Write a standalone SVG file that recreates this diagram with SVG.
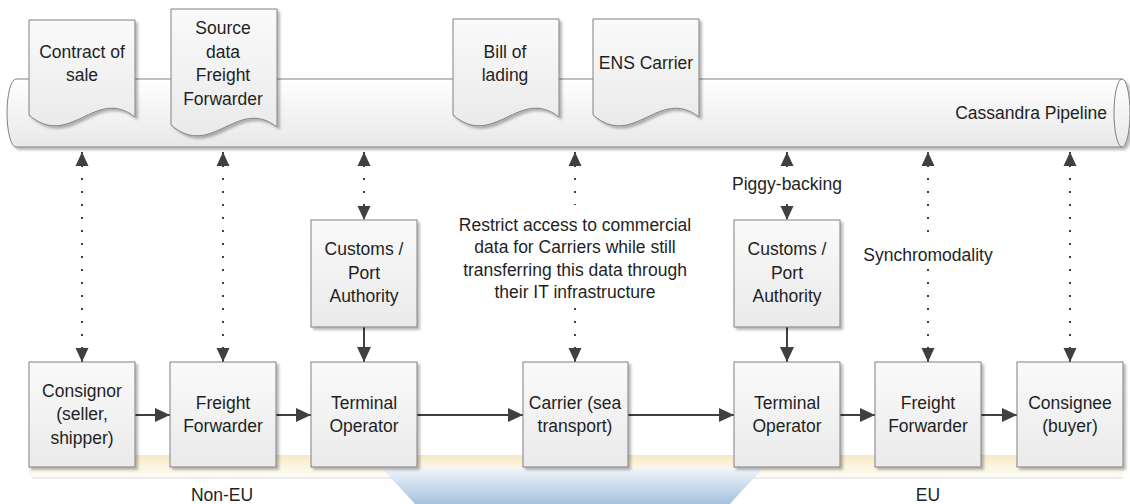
<svg xmlns="http://www.w3.org/2000/svg" width="1130" height="504" viewBox="0 0 1130 504">
<defs>
  <linearGradient id="gBox" x1="0" y1="0" x2="0" y2="1">
    <stop offset="0" stop-color="#fafafa"/>
    <stop offset="1" stop-color="#eaeaea"/>
  </linearGradient>
  <linearGradient id="gPipe" x1="0" y1="0" x2="0" y2="1">
    <stop offset="0" stop-color="#ffffff"/>
    <stop offset="1" stop-color="#e8e8e8"/>
  </linearGradient>
  <linearGradient id="gBand" x1="0" y1="0" x2="0" y2="1">
    <stop offset="0" stop-color="#f6e9c2"/>
    <stop offset="0.5" stop-color="#fbf4df"/>
    <stop offset="1" stop-color="#fefcf6"/>
  </linearGradient>
  <linearGradient id="gSea" x1="0" y1="0" x2="0" y2="1">
    <stop offset="0" stop-color="#f3f7fc"/>
    <stop offset="1" stop-color="#a6c1de"/>
  </linearGradient>
  <filter id="sh" x="-10%" y="-10%" width="130%" height="130%">
    <feDropShadow dx="2.5" dy="2.5" stdDeviation="1" flood-color="#000" flood-opacity="0.28"/>
  </filter>
  <marker id="ah" markerUnits="userSpaceOnUse" markerWidth="16" markerHeight="14" refX="15" refY="7" orient="auto-start-reverse">
    <path d="M0,0 L15,7 L0,14 Z" fill="#404040"/>
  </marker>
  <marker id="ad" markerUnits="userSpaceOnUse" markerWidth="15" markerHeight="14" refX="14" refY="7" orient="auto-start-reverse">
    <path d="M0,0.5 L14,7 L0,13.5 Z" fill="#404040"/>
  </marker>
  <style>
    .box{fill:url(#gBox);stroke:#808080;stroke-width:1;filter:url(#sh)}
    .doc{fill:url(#gBox);stroke:#808080;stroke-width:1;filter:url(#sh)}
    .t{font-family:"Liberation Sans",Arial,sans-serif;font-size:17.5px;fill:#1f1f1f;text-anchor:middle}
    .solid{stroke:#404040;stroke-width:2;fill:none;marker-end:url(#ah)}
    .dot{stroke:#404040;stroke-width:2;fill:none;stroke-dasharray:2 11;marker-start:url(#ad);marker-end:url(#ad)}
    .lbg{fill:#ffffff}
  </style>
</defs>
<rect width="1130" height="504" fill="#ffffff"/>

<g id="regions">
  <rect x="29" y="455" width="1094" height="22" fill="url(#gBand)"/>
  <rect x="32" y="477" width="1091" height="2" fill="#ececec"/>
  <path d="M381,467 H765 Q742,490 730,504 H415 Q402,490 381,467 Z" fill="url(#gSea)"/>
  <text class="t" x="222" y="501">Non-EU</text>
  <text class="t" x="928" y="501">EU</text>
</g>

<g id="pipeline">
  <path d="M16,79 H1122 A8,34 0 0 1 1122,147 H16 A9,34 0 0 1 16,79 Z" fill="url(#gPipe)" stroke="#808080" stroke-width="1" filter="url(#sh)"/>
  <path d="M1122,79 A8,34 0 0 0 1122,147" fill="none" stroke="#808080" stroke-width="1"/>
  <text class="t" x="1107" y="119" style="text-anchor:end">Cassandra Pipeline</text>
</g>

<g id="doc-contract">
  <path class="doc" d="M29,20 H135 V117 C95,86 70,150 29,115 Z"/>
  <text class="t" x="82" y="58">Contract of</text>
  <text class="t" x="82" y="81">sale</text>
</g>
<g id="doc-source">
  <path class="doc" d="M171,9 H277 V127 C237,96 212,160 171,125 Z"/>
  <text class="t" x="223" y="34">Source</text>
  <text class="t" x="223" y="58">data</text>
  <text class="t" x="223" y="81">Freight</text>
  <text class="t" x="223" y="105">Forwarder</text>
</g>
<g id="doc-bill">
  <path class="doc" d="M453,19 H559 V117 C519,86 494,150 453,115 Z"/>
  <text class="t" x="505" y="58">Bill of</text>
  <text class="t" x="505" y="81">lading</text>
</g>
<g id="doc-ens">
  <path class="doc" d="M593,19 H699 V117 C659,86 634,150 593,115 Z"/>
  <text class="t" x="646" y="69">ENS Carrier</text>
</g>

<g id="connectors">
  <line class="dot" x1="82" y1="152" x2="82" y2="362"/>
  <line class="dot" x1="223" y1="152" x2="223" y2="362"/>
  <line class="dot" x1="364" y1="152" x2="364" y2="220"/>
  <line class="dot" x1="575" y1="152" x2="575" y2="362"/>
  <line class="dot" x1="787" y1="152" x2="787" y2="220"/>
  <line class="dot" x1="928" y1="152" x2="928" y2="362"/>
  <line class="dot" x1="1070" y1="152" x2="1070" y2="362"/>
  <line class="solid" x1="364" y1="327" x2="364" y2="362"/>
  <line class="solid" x1="787" y1="327" x2="787" y2="362"/>
  <line class="solid" x1="135" y1="415" x2="170" y2="415"/>
  <line class="solid" x1="276" y1="415" x2="311" y2="415"/>
  <line class="solid" x1="417" y1="415" x2="523" y2="415"/>
  <line class="solid" x1="628" y1="415" x2="734" y2="415"/>
  <line class="solid" x1="840" y1="415" x2="875" y2="415"/>
  <line class="solid" x1="981" y1="415" x2="1017" y2="415"/>
  <g id="label-restrict">
    <rect class="lbg" x="455" y="205" width="240" height="97"/>
    <text class="t" x="575" y="231">Restrict access to commercial</text>
    <text class="t" x="575" y="253">data for Carriers while still</text>
    <text class="t" x="575" y="276">transferring this data through</text>
    <text class="t" x="575" y="298">their IT infrastructure</text>
  </g>
  <g id="label-piggy">
    <rect class="lbg" x="731" y="172" width="112" height="26"/>
    <text class="t" x="787" y="190">Piggy-backing</text>
  </g>
  <g id="label-synchro">
    <rect class="lbg" x="859" y="242" width="138" height="27"/>
    <text class="t" x="928" y="261">Synchromodality</text>
  </g>
</g>

<g id="customs1">
  <rect class="box" x="311" y="220" width="106" height="107"/>
  <text class="t" x="364" y="255">Customs /</text>
  <text class="t" x="364" y="279">Port</text>
  <text class="t" x="364" y="302">Authority</text>
</g>
<g id="customs2">
  <rect class="box" x="734" y="220" width="106" height="107"/>
  <text class="t" x="787" y="255">Customs /</text>
  <text class="t" x="787" y="279">Port</text>
  <text class="t" x="787" y="302">Authority</text>
</g>

<g id="consignor">
  <rect class="box" x="29" y="362" width="106" height="105"/>
  <text class="t" x="82" y="397">Consignor</text>
  <text class="t" x="82" y="420">(seller,</text>
  <text class="t" x="82" y="444">shipper)</text>
</g>
<g id="ff1">
  <rect class="box" x="170" y="362" width="106" height="105"/>
  <text class="t" x="223" y="409">Freight</text>
  <text class="t" x="223" y="432">Forwarder</text>
</g>
<g id="to1">
  <rect class="box" x="311" y="362" width="106" height="105"/>
  <text class="t" x="364" y="409">Terminal</text>
  <text class="t" x="364" y="432">Operator</text>
</g>
<g id="carrier">
  <rect class="box" x="523" y="362" width="105" height="105"/>
  <text class="t" x="575" y="409">Carrier (sea</text>
  <text class="t" x="575" y="432">transport)</text>
</g>
<g id="to2">
  <rect class="box" x="734" y="362" width="106" height="105"/>
  <text class="t" x="787" y="409">Terminal</text>
  <text class="t" x="787" y="432">Operator</text>
</g>
<g id="ff2">
  <rect class="box" x="875" y="362" width="106" height="105"/>
  <text class="t" x="928" y="409">Freight</text>
  <text class="t" x="928" y="432">Forwarder</text>
</g>
<g id="consignee">
  <rect class="box" x="1017" y="362" width="106" height="105"/>
  <text class="t" x="1070" y="409">Consignee</text>
  <text class="t" x="1070" y="432">(buyer)</text>
</g>
</svg>
